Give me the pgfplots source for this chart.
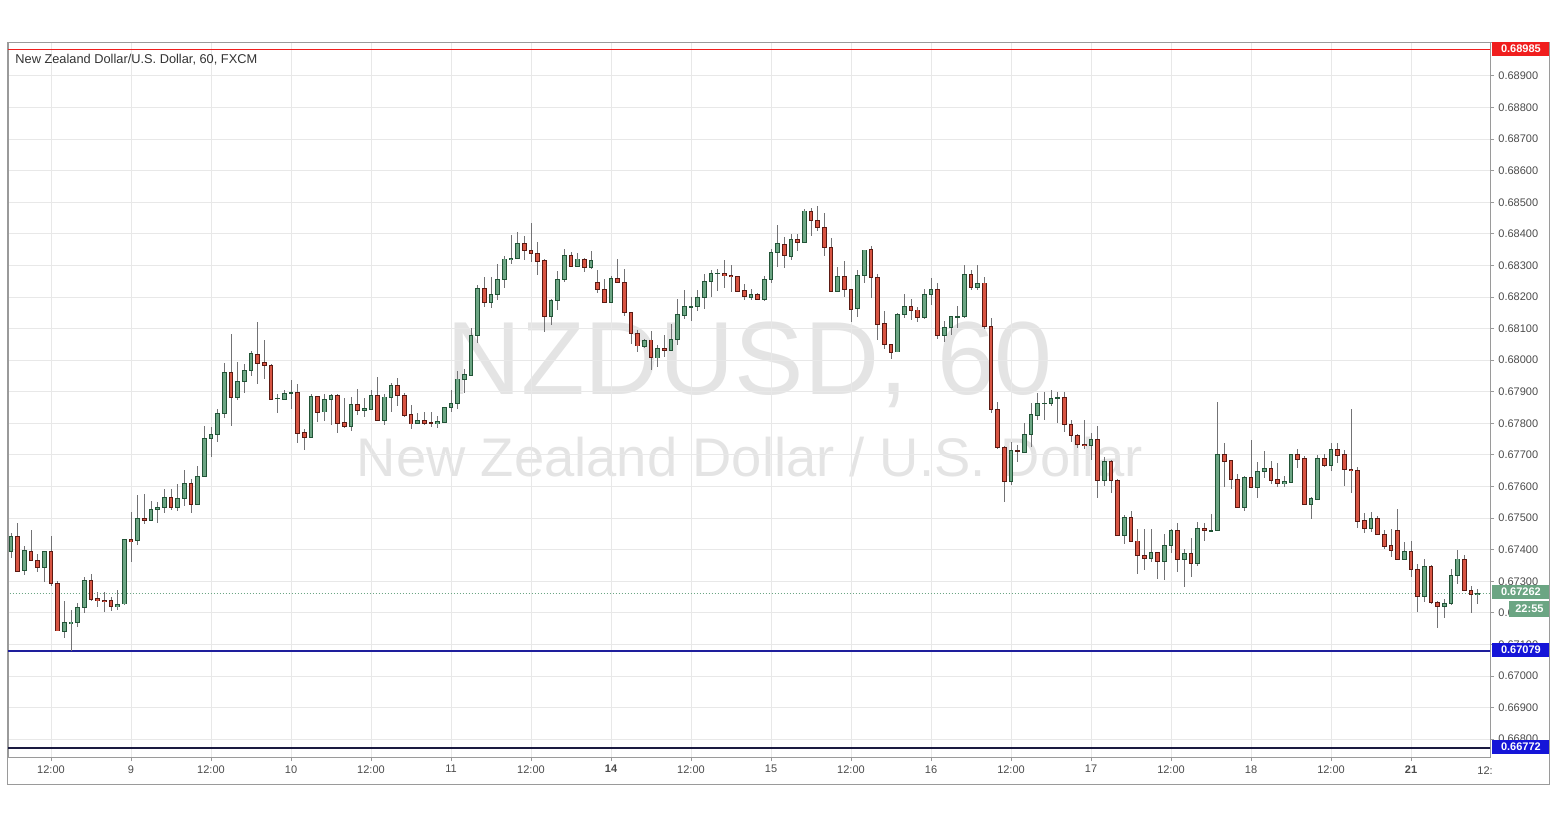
\documentclass[border=0pt]{standalone}
\usepackage{fontspec}
\setmainfont{Liberation Sans}
\usepackage{pgfplots}
\usepackage{pgfplotstable}
\pgfplotsset{compat=1.18}
\definecolor{upfill}{HTML}{6BA583}
\definecolor{upedge}{HTML}{225437}
\definecolor{dnfill}{HTML}{D75442}
\definecolor{dnedge}{HTML}{5B1A13}
\definecolor{wickc}{HTML}{737375}
\definecolor{gridc}{HTML}{E8E8E8}
\definecolor{framec}{HTML}{9A9A9A}
\definecolor{labc}{HTML}{4A4A4A}
\definecolor{wm}{HTML}{E4E4E4}
\definecolor{redl}{HTML}{F01E1E}
\definecolor{bluel}{HTML}{1E1E9C}
\definecolor{blueb}{HTML}{1515D8}
\definecolor{navyl}{HTML}{1A1A40}

\pgfplotstableread{
t o h l c
-18 0.67394 0.67452 0.67373 0.67443
-16 0.67334 0.67412 0.67320 0.67395
-13 0.67344 0.67396 0.67299 0.67395
-10 0.67144 0.67239 0.67121 0.67169
-9 0.67169 0.67209 0.67079 0.67172
-8 0.67172 0.67232 0.67156 0.67218
-7 0.67218 0.67315 0.67199 0.67303
-2 0.67220 0.67272 0.67209 0.67228
-1 0.67228 0.67433 0.67225 0.67431
1 0.67430 0.67575 0.67415 0.67499
3 0.67494 0.67554 0.67491 0.67528
4 0.67528 0.67552 0.67484 0.67534
5 0.67534 0.67591 0.67517 0.67566
7 0.67536 0.67608 0.67524 0.67563
8 0.67563 0.67652 0.67539 0.67610
10 0.67544 0.67666 0.67540 0.67633
11 0.67633 0.67792 0.67630 0.67753
12 0.67753 0.67789 0.67693 0.67765
13 0.67765 0.67845 0.67742 0.67832
14 0.67832 0.67993 0.67819 0.67962
16 0.67883 0.67995 0.67876 0.67934
17 0.67934 0.67988 0.67897 0.67967
18 0.67967 0.68030 0.67953 0.68020
22 0.67879 0.67895 0.67834 0.67880
23 0.67878 0.67906 0.67874 0.67895
24 0.67895 0.67937 0.67846 0.67897
27 0.67756 0.67895 0.67754 0.67885
29 0.67837 0.67893 0.67808 0.67876
30 0.67876 0.67895 0.67795 0.67889
33 0.67792 0.67883 0.67777 0.67860
35 0.67842 0.67879 0.67821 0.67846
36 0.67846 0.67908 0.67842 0.67889
38 0.67811 0.67893 0.67795 0.67883
39 0.67883 0.67927 0.67837 0.67919
43 0.67800 0.67832 0.67798 0.67809
46 0.67800 0.67824 0.67784 0.67807
47 0.67805 0.67853 0.67803 0.67851
48 0.67851 0.67906 0.67837 0.67864
49 0.67864 0.67967 0.67845 0.67940
50 0.67940 0.67972 0.67897 0.67955
51 0.67955 0.68101 0.67950 0.68080
52 0.68080 0.68241 0.68056 0.68228
54 0.68185 0.68264 0.68165 0.68210
55 0.68210 0.68307 0.68191 0.68256
56 0.68256 0.68331 0.68231 0.68320
57 0.68320 0.68399 0.68307 0.68323
58 0.68323 0.68405 0.68320 0.68370
63 0.68138 0.68193 0.68112 0.68189
64 0.68189 0.68283 0.68161 0.68256
65 0.68256 0.68354 0.68249 0.68333
67 0.68298 0.68339 0.68296 0.68320
69 0.68294 0.68347 0.68291 0.68315
72 0.68185 0.68267 0.68183 0.68259
77 0.68046 0.68069 0.68041 0.68064
79 0.68009 0.68050 0.67978 0.68038
81 0.68032 0.68115 0.68030 0.68066
82 0.68066 0.68194 0.68048 0.68145
83 0.68145 0.68222 0.68131 0.68170
84 0.68170 0.68201 0.68125 0.68172
85 0.68172 0.68222 0.68156 0.68201
86 0.68201 0.68275 0.68164 0.68249
87 0.68249 0.68288 0.68201 0.68275
88 0.68275 0.68291 0.68219 0.68276
93 0.68201 0.68225 0.68191 0.68209
95 0.68193 0.68268 0.68190 0.68257
96 0.68257 0.68352 0.68244 0.68342
97 0.68342 0.68428 0.68296 0.68368
99 0.68331 0.68400 0.68317 0.68383
101 0.68375 0.68479 0.68373 0.68473
106 0.68219 0.68296 0.68217 0.68267
109 0.68164 0.68285 0.68136 0.68270
110 0.68270 0.68351 0.68244 0.68349
115 0.68027 0.68151 0.68025 0.68146
116 0.68146 0.68210 0.68136 0.68172
119 0.68136 0.68226 0.68131 0.68210
120 0.68210 0.68261 0.68175 0.68225
122 0.68080 0.68125 0.68057 0.68104
123 0.68104 0.68143 0.68080 0.68138
124 0.68138 0.68173 0.68104 0.68140
125 0.68138 0.68304 0.68136 0.68270
127 0.68231 0.68304 0.68225 0.68244
132 0.67619 0.67742 0.67605 0.67714
134 0.67710 0.67802 0.67708 0.67766
135 0.67766 0.67865 0.67726 0.67827
136 0.67827 0.67895 0.67811 0.67864
137 0.67864 0.67900 0.67811 0.67865
138 0.67864 0.67906 0.67855 0.67881
139 0.67881 0.67900 0.67802 0.67882
144 0.67731 0.67770 0.67684 0.67750
146 0.67621 0.67693 0.67603 0.67681
149 0.67446 0.67510 0.67420 0.67503
153 0.67373 0.67465 0.67362 0.67391
155 0.67365 0.67450 0.67306 0.67415
156 0.67415 0.67465 0.67391 0.67462
158 0.67370 0.67401 0.67283 0.67389
160 0.67357 0.67489 0.67348 0.67468
162 0.67460 0.67513 0.67457 0.67462
163 0.67462 0.67869 0.67459 0.67703
167 0.67536 0.67633 0.67524 0.67629
169 0.67598 0.67679 0.67563 0.67649
170 0.67649 0.67714 0.67626 0.67658
173 0.67610 0.67633 0.67598 0.67614
174 0.67613 0.67704 0.67611 0.67702
177 0.67544 0.67566 0.67499 0.67561
178 0.67561 0.67700 0.67559 0.67689
180 0.67668 0.67739 0.67649 0.67718
186 0.67468 0.67519 0.67457 0.67499
191 0.67370 0.67425 0.67368 0.67394
194 0.67253 0.67373 0.67235 0.67346
197 0.67222 0.67246 0.67186 0.67230
198 0.67230 0.67341 0.67225 0.67320
199 0.67320 0.67401 0.67291 0.67370
202 0.67259 0.67278 0.67228 0.67262
}\up

\pgfplotstableread{
t o h l c
-17 0.67443 0.67486 0.67332 0.67334
-15 0.67395 0.67462 0.67364 0.67365
-14 0.67365 0.67389 0.67330 0.67344
-12 0.67395 0.67443 0.67285 0.67294
-11 0.67294 0.67301 0.67142 0.67144
-6 0.67303 0.67325 0.67238 0.67243
-5 0.67247 0.67267 0.67220 0.67239
-4 0.67241 0.67267 0.67204 0.67237
-3 0.67238 0.67251 0.67207 0.67220
0 0.67431 0.67519 0.67362 0.67428
2 0.67499 0.67576 0.67481 0.67494
6 0.67566 0.67594 0.67528 0.67536
9 0.67610 0.67623 0.67515 0.67544
15 0.67962 0.68083 0.67793 0.67883
19 0.68020 0.68120 0.67925 0.67993
20 0.67993 0.68064 0.67943 0.67985
21 0.67985 0.67988 0.67877 0.67879
25 0.67898 0.67925 0.67739 0.67770
26 0.67772 0.67784 0.67716 0.67756
28 0.67885 0.67887 0.67805 0.67837
31 0.67889 0.67895 0.67770 0.67802
32 0.67803 0.67883 0.67788 0.67792
34 0.67861 0.67911 0.67827 0.67842
37 0.67888 0.67946 0.67809 0.67811
40 0.67919 0.67945 0.67858 0.67888
41 0.67888 0.67897 0.67821 0.67827
42 0.67829 0.67858 0.67784 0.67800
44 0.67810 0.67837 0.67797 0.67803
45 0.67803 0.67837 0.67789 0.67802
53 0.68228 0.68265 0.68168 0.68185
59 0.68370 0.68393 0.68317 0.68347
60 0.68347 0.68437 0.68312 0.68339
61 0.68339 0.68375 0.68270 0.68315
62 0.68317 0.68320 0.68090 0.68138
66 0.68332 0.68344 0.68296 0.68298
68 0.68320 0.68323 0.68280 0.68294
70 0.68247 0.68286 0.68214 0.68225
71 0.68225 0.68259 0.68183 0.68185
73 0.68259 0.68323 0.68246 0.68247
74 0.68247 0.68289 0.68141 0.68152
75 0.68152 0.68154 0.68050 0.68085
76 0.68085 0.68096 0.68027 0.68046
78 0.68064 0.68094 0.67969 0.68009
80 0.68038 0.68078 0.68009 0.68032
89 0.68275 0.68317 0.68228 0.68269
90 0.68269 0.68302 0.68217 0.68266
91 0.68266 0.68268 0.68217 0.68219
92 0.68219 0.68241 0.68191 0.68201
94 0.68209 0.68214 0.68191 0.68193
98 0.68367 0.68389 0.68291 0.68331
100 0.68383 0.68402 0.68346 0.68375
102 0.68473 0.68483 0.68393 0.68444
103 0.68444 0.68489 0.68410 0.68421
104 0.68421 0.68465 0.68331 0.68358
105 0.68358 0.68388 0.68217 0.68219
107 0.68267 0.68314 0.68201 0.68225
108 0.68225 0.68227 0.68122 0.68164
111 0.68349 0.68362 0.68195 0.68263
112 0.68263 0.68273 0.68064 0.68115
113 0.68115 0.68157 0.68035 0.68050
114 0.68050 0.68052 0.68003 0.68027
117 0.68172 0.68195 0.68127 0.68159
118 0.68159 0.68168 0.68122 0.68136
121 0.68225 0.68244 0.68066 0.68080
126 0.68270 0.68285 0.68222 0.68231
128 0.68244 0.68265 0.68101 0.68106
129 0.68106 0.68136 0.67834 0.67845
130 0.67845 0.67869 0.67718 0.67726
131 0.67726 0.67728 0.67552 0.67619
133 0.67714 0.67732 0.67679 0.67713
140 0.67881 0.67900 0.67774 0.67797
141 0.67797 0.67813 0.67742 0.67763
142 0.67763 0.67766 0.67723 0.67734
143 0.67734 0.67813 0.67721 0.67731
145 0.67750 0.67792 0.67563 0.67621
147 0.67681 0.67683 0.67581 0.67621
148 0.67621 0.67626 0.67444 0.67446
150 0.67503 0.67524 0.67426 0.67428
151 0.67428 0.67465 0.67322 0.67382
152 0.67382 0.67465 0.67336 0.67373
154 0.67391 0.67394 0.67306 0.67365
157 0.67462 0.67486 0.67330 0.67370
159 0.67389 0.67436 0.67315 0.67357
161 0.67468 0.67486 0.67429 0.67460
164 0.67703 0.67739 0.67600 0.67682
165 0.67682 0.67684 0.67592 0.67623
166 0.67623 0.67642 0.67534 0.67536
168 0.67629 0.67747 0.67596 0.67598
171 0.67658 0.67681 0.67608 0.67619
172 0.67621 0.67676 0.67598 0.67610
175 0.67702 0.67721 0.67661 0.67689
176 0.67689 0.67698 0.67542 0.67544
179 0.67689 0.67702 0.67663 0.67668
181 0.67718 0.67739 0.67676 0.67700
182 0.67700 0.67718 0.67602 0.67655
183 0.67655 0.67845 0.67581 0.67652
184 0.67652 0.67661 0.67468 0.67489
185 0.67491 0.67515 0.67452 0.67468
187 0.67499 0.67507 0.67448 0.67450
188 0.67449 0.67462 0.67404 0.67410
189 0.67412 0.67465 0.67376 0.67397
190 0.67462 0.67531 0.67368 0.67370
192 0.67394 0.67428 0.67315 0.67338
193 0.67338 0.67355 0.67204 0.67253
195 0.67348 0.67352 0.67230 0.67235
196 0.67235 0.67237 0.67151 0.67222
200 0.67370 0.67383 0.67270 0.67272
201 0.67270 0.67285 0.67200 0.67260
}\down

\newcommand{\tickfont}{\fontsize{5.5}{6.6}\selectfont}
\pgfplotsset{
  candle/.style n args={2}{draw=none, mark=none, forget plot,
    error bars/.cd, y dir=both, y explicit, error mark=none,
    error bar style={draw=#1, line width=#2}},
}

\begin{document}
\begin{tikzpicture}
\useasboundingbox (0,0) rectangle (778pt,410pt);
% watermark
\node[font=\fontsize{52}{52}\selectfont, text=wm, anchor=base, inner sep=0pt] at (374.75pt,212.5pt) {NZDUSD, 60};
\node[font=\fontsize{27.2}{27.2}\selectfont, text=wm, anchor=base, inner sep=0pt] at (375pt,172pt) {New Zealand Dollar / U.S. Dollar};
\begin{axis}[
  at={(4pt,31.5pt)}, anchor=south west, scale only axis,
  width=741pt, height=357pt,
  xmin=-18.45, xmax=203.85, ymin=0.667435, ymax=0.690045,
  axis line style={draw=framec, line width=0.5pt},
  scaled y ticks=false,
  xtick={-12,0,12,24,36,48,60,72,84,96,108,120,132,144,156,168,180,192},
  xticklabels={12:00,9,12:00,10,12:00,11,12:00,\textbf{14},12:00,15,12:00,16,12:00,17,12:00,18,12:00,\textbf{21}},
  ytick={0.668,0.669,0.670,0.671,0.672,0.673,0.674,0.675,0.676,0.677,0.678,0.679,0.680,0.681,0.682,0.683,0.684,0.685,0.686,0.687,0.688,0.689},
  yticklabels={0.66800,0.66900,0.67000,0.67100,0.67200,0.67300,0.67400,0.67500,0.67600,0.67700,0.67800,0.67900,0.68000,0.68100,0.68200,0.68300,0.68400,0.68500,0.68600,0.68700,0.68800,0.68900},
  xtick pos=left, ytick pos=right, yticklabel pos=right,
  tick align=outside, major tick length=2pt,
  tick style={draw=framec, line width=0.5pt},
  grid=major, major grid style={draw=gridc, line width=0.5pt},
  ticklabel style={font=\tickfont, text=labc},
  yticklabel style={anchor=west, inner sep=0pt, xshift=2pt},
  xticklabel style={inner sep=0pt, yshift=-2pt},
]
% horizontal level lines
\addplot[redl, line width=0.6pt, forget plot] coordinates {(-20,0.68985) (210,0.68985)};
\addplot[bluel, line width=0.6pt, forget plot] coordinates {(-20,0.67079) (210,0.67079)};
\addplot[navyl, line width=0.6pt, forget plot] coordinates {(-20,0.66772) (210,0.66772)};
\addplot[upfill, line width=0.5pt, dash pattern=on 0.5pt off 1pt, forget plot] coordinates {(-20,0.67262) (210,0.67262)};
% wicks
\addplot[candle={wickc}{0.5pt}]
  table[x=t, y expr={(\thisrow{h}+\thisrow{l})/2}, y error expr={(\thisrow{h}-\thisrow{l})/2}] {\up};
\addplot[candle={wickc}{0.5pt}]
  table[x=t, y expr={(\thisrow{h}+\thisrow{l})/2}, y error expr={(\thisrow{h}-\thisrow{l})/2}] {\down};
% bodies: outline
\addplot[candle={upedge}{2.35pt}]
  table[x=t, y expr={(\thisrow{o}+\thisrow{c})/2}, y error expr={abs(\thisrow{c}-\thisrow{o})/2+0.00002}] {\up};
\addplot[candle={dnedge}{2.35pt}]
  table[x=t, y expr={(\thisrow{o}+\thisrow{c})/2}, y error expr={abs(\thisrow{c}-\thisrow{o})/2+0.00002}] {\down};
% bodies: fill
\addplot[candle={upfill}{1.35pt}]
  table[x=t, y expr={(\thisrow{o}+\thisrow{c})/2}, y error expr={max(abs(\thisrow{c}-\thisrow{o})/2-0.00001,0)}] {\up};
\addplot[candle={dnfill}{1.35pt}]
  table[x=t, y expr={(\thisrow{o}+\thisrow{c})/2}, y error expr={max(abs(\thisrow{c}-\thisrow{o})/2-0.00001,0)}] {\down};
\end{axis}
% cut-off last time label
\node[font=\tickfont, text=labc, anchor=west, inner sep=0pt] at (738.5pt,24.5pt) {12:};
% frame
\draw[framec, line width=0.5pt] (3.5pt,18pt) rectangle (774.5pt,388.5pt);
% price labels on the right
\node[fill=redl, text=white, font=\tickfont\bfseries, minimum width=28.5pt, minimum height=7pt, inner sep=0pt, anchor=west] at (746pt,385.5pt) {0.68985};
\node[fill=upfill, text=white, font=\tickfont\bfseries, minimum width=28.5pt, minimum height=7pt, inner sep=0pt, anchor=west] at (746pt,114pt) {0.67262};
\node[fill=upfill, text=white, font=\tickfont\bfseries, minimum width=20pt, minimum height=8pt, inner sep=0pt, anchor=west] at (754.5pt,105.5pt) {22:55};
\node[fill=blueb, text=white, font=\tickfont\bfseries, minimum width=28.5pt, minimum height=7pt, inner sep=0pt, anchor=west] at (746pt,85pt) {0.67079};
\node[fill=blueb, text=white, font=\tickfont\bfseries, minimum width=28.5pt, minimum height=7pt, inner sep=0pt, anchor=west] at (746pt,36.5pt) {0.66772};
% title
\node[font=\fontsize{6.4}{7.7}\selectfont, text=black!80, anchor=west, inner sep=0pt] at (7.5pt,380pt) {New Zealand Dollar/U.S. Dollar, 60, FXCM};
\end{tikzpicture}
\end{document}
